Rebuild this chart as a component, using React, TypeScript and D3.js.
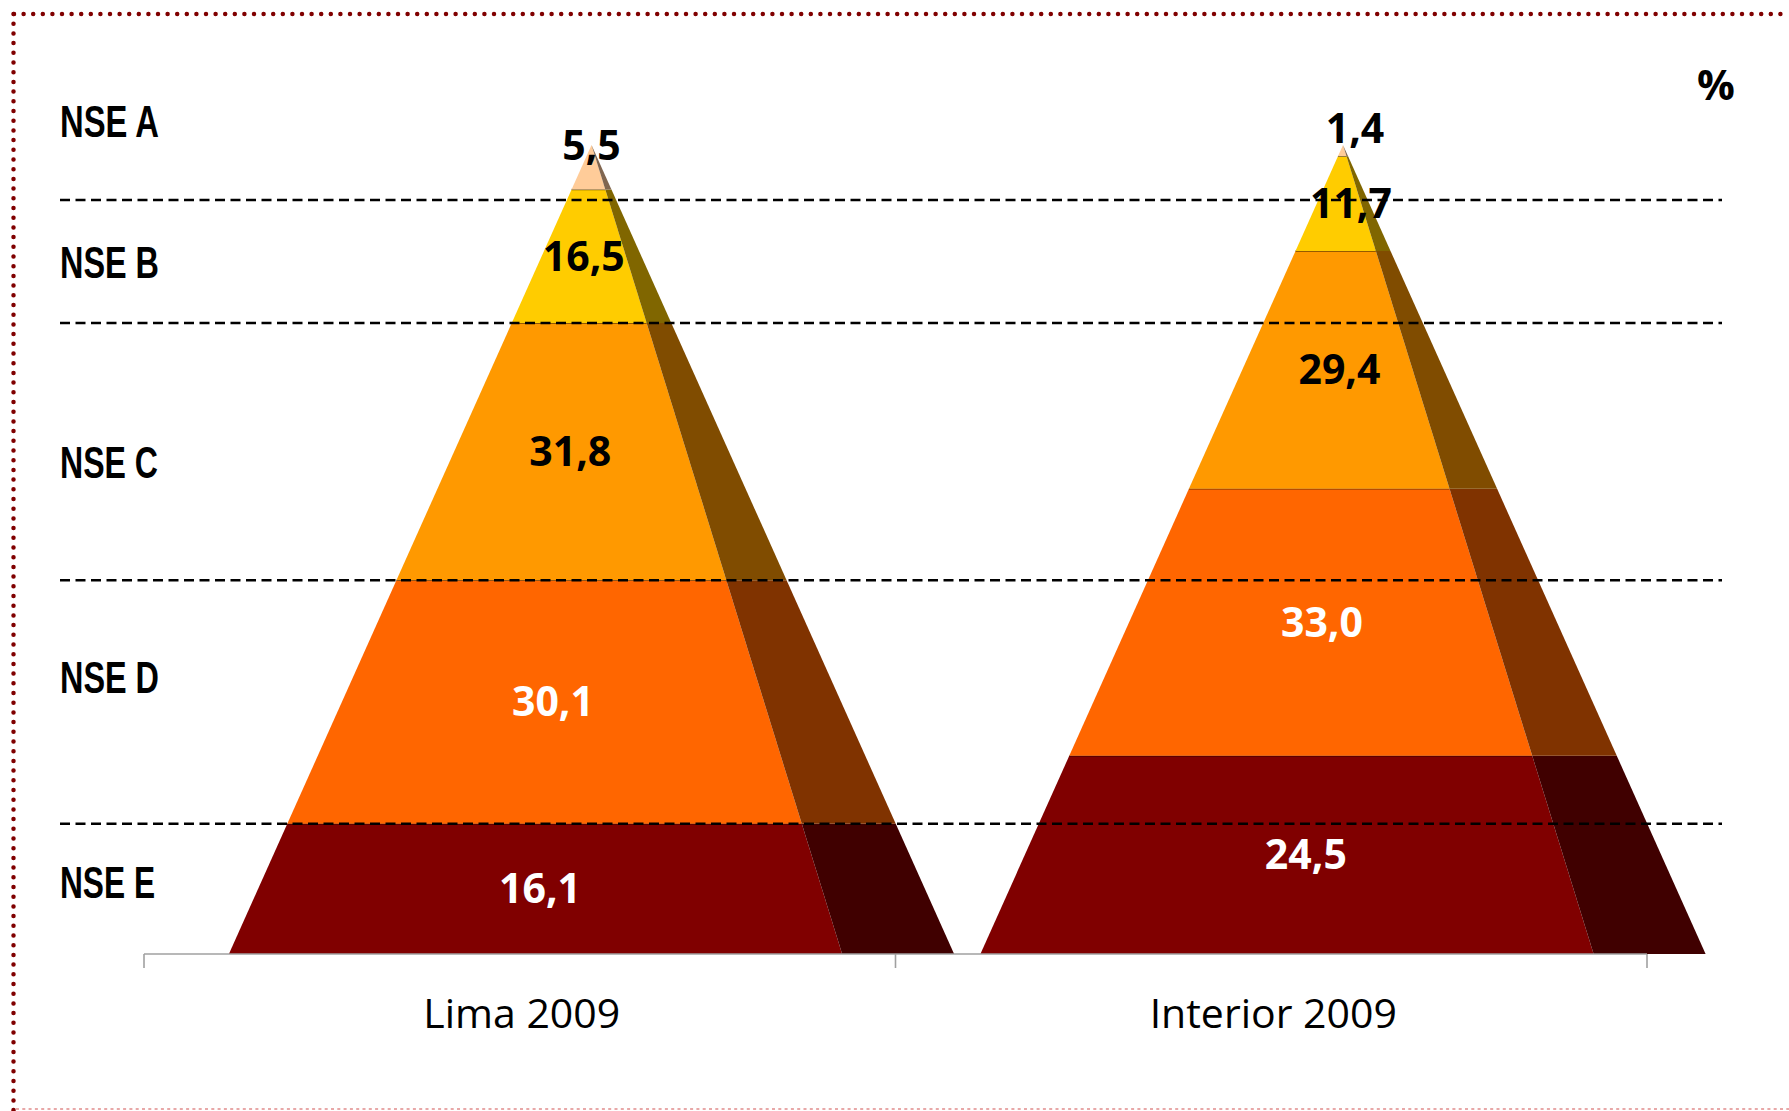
import { useEffect, useRef } from 'react';
import * as d3 from 'd3';

// data (percent of households, top level first)
const groups = ['Lima 2009', 'Interior 2009'];
const levels = ['NSE A', 'NSE B', 'NSE C', 'NSE D', 'NSE E'];
const limaValues = [5.5, 16.5, 31.8, 30.1, 16.1];
const interiorValues = [1.4, 11.7, 29.4, 33.0, 24.5];
// dashed separators, in the same percent units as the stack
const guideLevels = [16.1, 46.2, 78.0, 93.2];

const frontColors = ['#FFCC99', '#FFCC00', '#FF9900', '#FF6600', '#800000'];
const sideColors = ['#806650', '#806600', '#804C00', '#803300', '#400000'];
const labelColors = ['#000', '#000', '#000', '#fff', '#fff'];

const W = 1789;
const H = 1111;

const App: React.FC = () => {
    const svgRef = useRef<SVGSVGElement>(null);

    useEffect(() => {
        const svg = d3.select(svgRef.current);
        svg.selectAll('*').remove();

        const x = d3.scaleBand().domain(groups).range([144, 1647]).padding(0);
        const y = d3.scaleLinear().domain([0, 100]).range([954, 145]);
        const baseY = y(0);
        const apexY = y(100);
        const bw = x.bandwidth();

        const valuesByGroup = [limaValues, interiorValues];
        const table = groups.map((g, gi) => {
            const row: any = { group: g };
            levels.forEach((l, li) => (row[l] = valuesByGroup[gi][li]));
            return row;
        });
        const series = d3.stack<any>().keys([...levels].reverse())(table);

        // dotted frame
        svg.append('path')
            .attr('d', `M14,14 H${W}`)
            .attr('stroke', '#800000')
            .attr('stroke-width', 4.5)
            .attr('stroke-linecap', 'round')
            .attr('stroke-dasharray', '0 9.6');
        svg.append('path')
            .attr('d', `M13.5,14 V${H}`)
            .attr('stroke', '#800000')
            .attr('stroke-width', 4.5)
            .attr('stroke-linecap', 'round')
            .attr('stroke-dasharray', '0 9.7');
        svg.append('path')
            .attr('d', `M16,1109 H${W}`)
            .attr('stroke', '#e8a8a8')
            .attr('stroke-width', 1.8)
            .attr('stroke-dasharray', '3 3.3');

        const g = svg.append('g');

        // pyramid geometry relative to its band
        const geom = (gi: number) => {
            const x0 = x(groups[gi]) as number;
            return {
                L: x0 + bw * 0.113,
                FR: x0 + bw * 0.929,
                SR: x0 + bw * 1.078,
                AX: x0 + bw * 0.5955,
            };
        };

        series.forEach((s) => {
            const li = levels.indexOf(s.key as string);
            s.forEach((d, gi) => {
                const { L, FR, SR, AX } = geom(gi);
                const edge = (bx: number, yy: number) => bx + ((AX - bx) * (baseY - yy)) / (baseY - apexY);
                const y0 = y(d[0]);
                const y1 = y(d[1]);

                const front = [
                    [edge(L, y0), y0],
                    [edge(FR, y0), y0],
                    [edge(FR, y1), y1],
                    [edge(L, y1), y1],
                ];
                const side = [
                    [edge(FR, y0), y0],
                    [edge(SR, y0), y0],
                    [edge(SR, y1), y1],
                    [edge(FR, y1), y1],
                ];
                const line = d3.line();
                g.append('path')
                    .attr('d', line(front as [number, number][]) + 'Z')
                    .attr('fill', frontColors[li]);
                g.append('path')
                    .attr('d', line(side as [number, number][]) + 'Z')
                    .attr('fill', sideColors[li]);
                if (d[1] < 100) {
                    g.append('line')
                        .attr('x1', edge(L, y1))
                        .attr('x2', edge(FR, y1))
                        .attr('y1', y1)
                        .attr('y2', y1)
                        .attr('stroke', 'rgba(0,0,0,0.55)')
                        .attr('stroke-width', 1.3);
                }
            });
        });

        // axis
        svg.append('line')
            .attr('x1', x.range()[0])
            .attr('x2', x.range()[1])
            .attr('y1', baseY)
            .attr('y2', baseY)
            .attr('stroke', '#a0a0a0')
            .attr('stroke-width', 1.6);
        const tickXs = [...groups.map((gr) => x(gr) as number), x.range()[1]];
        svg.selectAll('.tick')
            .data(tickXs)
            .enter()
            .append('line')
            .attr('x1', (d) => d)
            .attr('x2', (d) => d)
            .attr('y1', baseY)
            .attr('y2', baseY + 14)
            .attr('stroke', '#a0a0a0')
            .attr('stroke-width', 1.6);

        svg.selectAll('.cat')
            .data(groups)
            .enter()
            .append('text')
            .attr('x', (d) => (x(d) as number) + bw / 2 + 2)
            .attr('y', 1028)
            .attr('text-anchor', 'middle')
            .style('font-family', "'Open Sans', sans-serif")
            .style('font-size', '41px')
            .attr('fill', '#000')
            .text((d) => d);

        // dashed guides
        svg.selectAll('.guide')
            .data(guideLevels)
            .enter()
            .append('line')
            .attr('x1', 60)
            .attr('x2', 1722)
            .attr('y1', (d) => y(d))
            .attr('y2', (d) => y(d))
            .attr('stroke', '#000')
            .attr('stroke-width', 2.5)
            .attr('stroke-dasharray', '10 5.5');

        // row labels on the left (narrow bold look)
        const rowBaselines = [137, 278, 478, 693, 898];
        const rowLengths = [99, 99, 98, 99, 95];
        svg.selectAll('.row')
            .data(levels)
            .enter()
            .append('text')
            .attr('x', 60)
            .attr('y', (_, i) => rowBaselines[i])
            .attr('textLength', (_, i) => rowLengths[i])
            .attr('lengthAdjust', 'spacingAndGlyphs')
            .style('font-family', "'Liberation Sans', Arial, sans-serif")
            .style('font-weight', 'bold')
            .style('font-size', '44px')
            .attr('fill', '#000')
            .text((d) => d);

        // value labels
        const labelNudge = [0, 12];
        series.forEach((s) => {
            const li = levels.indexOf(s.key as string);
            s.forEach((d, gi) => {
                const { L, FR, AX } = geom(gi);
                const mid = (y(d[0]) + y(d[1])) / 2;
                const cy = d[1] >= 100 ? mid - 22 : mid;
                const t = Math.min(1, (baseY - cy) / (baseY - apexY));
                const cx = (L + (AX - L) * t + FR + (AX - FR) * t) / 2 + labelNudge[gi];
                svg.append('text')
                    .attr('x', cx)
                    .attr('y', cy + 14.5)
                    .attr('text-anchor', 'middle')
                    .style('font-family', "'Open Sans', sans-serif")
                    .style('font-weight', 'bold')
                    .style('font-size', '41px')
                    .attr('fill', labelColors[li])
                    .text(d3.format('.1f')(valuesByGroup[gi][li]).replace('.', ','));
            });
        });

        svg.append('text')
            .attr('x', 1716)
            .attr('y', 100)
            .attr('text-anchor', 'middle')
            .style('font-family', "'Open Sans', sans-serif")
            .style('font-weight', 'bold')
            .style('font-size', '42px')
            .attr('fill', '#000')
            .text('%');
    }, []);

    return (
        <svg
            ref={svgRef}
            width={W}
            height={H}
            style={{ position: 'absolute', left: 0, top: 0, background: '#fff' }}
        />
    );
};

export default App;
